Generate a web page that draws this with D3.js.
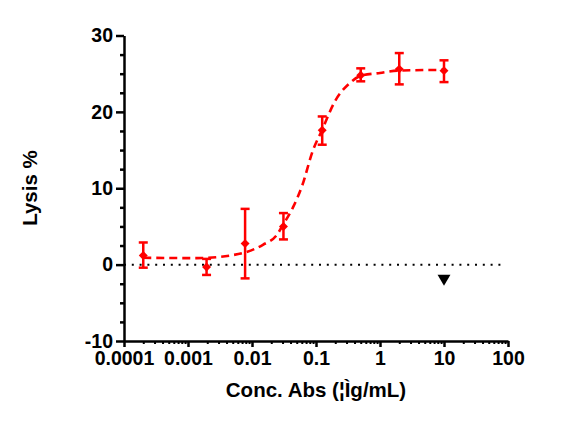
<!DOCTYPE html>
<html>
<head>
<meta charset="utf-8">
<script src="https://cdn.jsdelivr.net/npm/d3@7"></script>
<style>
    body { margin: 0; background: #fff; }
    text { font-family: "Liberation Sans", Arial, sans-serif; font-weight: bold; }
</style>
</head>
<body>
<script>
// measured points (mean +/- error)
const conc = [0.0002, 0.00195, 0.0078, 0.031, 0.125, 0.5, 2, 10];
const lysis = [1.2, -0.3, 2.75, 5.0, 17.6, 24.8, 25.6, 25.4];
const errLow = [1.6, 1.05, 4.55, 1.7, 1.9, 0.8, 2.0, 1.5];
const errHigh = [1.7, 1.05, 4.55, 1.75, 1.8, 0.9, 2.1, 1.35];

// fitted curve
const curveConc = [0.0002, 0.00138, 0.0046, 0.0078, 0.0148, 0.0245, 0.030, 0.0437, 0.060, 0.090, 0.124, 0.198, 0.34, 0.49, 1.0, 1.9, 10];
const curveLysis = [0.9, 0.85, 1.2, 1.6, 2.6, 3.9, 5.1, 7.5, 10.2, 15.0, 17.6, 21.4, 23.8, 24.7, 25.1, 25.4, 25.5];

// isotype control
const ctrlConc = [10];
const ctrlLysis = [-1.8];

const xTicks = [0.0001, 0.001, 0.01, 0.1, 1, 10, 100];
const xTickLabels = ['0.0001', '0.001', '0.01', '0.1', '1', '10', '100'];
const yTicks = [-10, 0, 10, 20, 30];
const yTickLabels = ['-10', '0', '10', '20', '30'];

const width = 570;
const height = 424;
const margin = { top: 35.5, right: 62, bottom: 83, left: 124 };
const red = '#ff0000';

const x = d3.scaleLog()
    .domain([0.0001, 100])
    .range([margin.left, width - margin.right]);

const y = d3.scaleLinear()
    .domain([-10, 30])
    .range([height - margin.bottom, margin.top]);

const svg = d3.create('svg')
    .attr('width', width)
    .attr('height', height);

// minor ticks
const xMinor = [];
xTicks.slice(0, -1).forEach(d => {
    for (let k = 2; k < 10; k++) xMinor.push(d * k);
});
const yMinor = d3.range(-10, 30.1, 2.5).filter(v => !yTicks.includes(v));

svg.append('g')
    .attr('transform', `translate(0,${y(-10)})`)
    .call(d3.axisBottom(x).tickValues(xMinor).tickSize(3).tickFormat(''))
    .call(g => g.select('.domain').remove())
    .call(g => g.selectAll('line').attr('stroke-width', 2));

svg.append('g')
    .attr('transform', `translate(${x(0.0001)},0)`)
    .call(d3.axisLeft(y).tickValues(yMinor).tickSize(4).tickFormat(''))
    .call(g => g.select('.domain').remove())
    .call(g => g.selectAll('line').attr('stroke-width', 2.5));

// main axes
const xAxis = svg.append('g')
    .attr('transform', `translate(0,${y(-10)})`)
    .call(d3.axisBottom(x)
        .tickValues(xTicks)
        .tickSize(6)
        .tickSizeOuter(0)
        .tickPadding(4)
        .tickFormat((d, i) => xTickLabels[i]));
xAxis.select('.domain').attr('stroke-width', 2.5);
xAxis.selectAll('line').attr('stroke-width', 2.5);
xAxis.selectAll('text').attr('font-size', 19.5).attr('fill', '#000');

const yAxis = svg.append('g')
    .attr('transform', `translate(${x(0.0001)},0)`)
    .call(d3.axisLeft(y)
        .tickValues(yTicks)
        .tickSize(8)
        .tickSizeOuter(0)
        .tickPadding(3)
        .tickFormat((d, i) => yTickLabels[i]));
yAxis.select('.domain').attr('stroke-width', 2.5);
yAxis.selectAll('line').attr('stroke-width', 2.5);
yAxis.selectAll('text').attr('font-size', 19.5).attr('fill', '#000');

// zero line
svg.append('line')
    .attr('x1', x(0.0001))
    .attr('x2', x(80))
    .attr('y1', y(0))
    .attr('y2', y(0))
    .attr('stroke', '#000')
    .attr('stroke-width', 2)
    .attr('stroke-dasharray', '2,5.8');

// fit curve
const line = d3.line()
    .x(d => x(d[0]))
    .y(d => y(d[1]))
    .curve(d3.curveMonotoneX);

svg.append('path')
    .datum(curveConc.map((c, i) => [c, curveLysis[i]]))
    .attr('d', line)
    .attr('fill', 'none')
    .attr('stroke', red)
    .attr('stroke-width', 2.6)
    .attr('stroke-dasharray', '8,5');

// error bars + markers
const pts = conc.map((c, i) => ({ c, v: lysis[i], lo: lysis[i] - errLow[i], hi: lysis[i] + errHigh[i] }));
const pt = svg.selectAll('g.pt')
    .data(pts)
    .join('g')
    .attr('class', 'pt');

pt.append('line')
    .attr('x1', d => x(d.c))
    .attr('x2', d => x(d.c))
    .attr('y1', d => y(d.lo))
    .attr('y2', d => y(d.hi))
    .attr('stroke', red)
    .attr('stroke-width', 2.5);

['lo', 'hi'].forEach(k => {
    pt.append('line')
        .attr('x1', d => x(d.c) - 4.5)
        .attr('x2', d => x(d.c) + 4.5)
        .attr('y1', d => y(d[k]))
        .attr('y2', d => y(d[k]))
        .attr('stroke', red)
        .attr('stroke-width', 2.5);
});

pt.append('path')
    .attr('d', d3.symbol(d3.symbolSquare, 40))
    .attr('transform', d => `translate(${x(d.c)},${y(d.v)}) rotate(45)`)
    .attr('fill', red);

svg.selectAll('path.ctrl')
    .data(ctrlConc.map((c, i) => [c, ctrlLysis[i]]))
    .join('path')
    .attr('class', 'ctrl')
    .attr('d', d3.symbol(d3.symbolTriangle, 72))
    .attr('transform', d => `translate(${x(d[0])},${y(d[1])}) rotate(180)`)
    .attr('fill', '#000');

// axis titles
svg.append('text')
    .attr('x', (x.range()[0] + x.range()[1]) / 2)
    .attr('y', 397)
    .attr('text-anchor', 'middle')
    .attr('font-size', 20.5)
    .text('Conc. Abs (¦Ìg/mL)');

svg.append('text')
    .attr('transform', 'translate(37,188) rotate(-90)')
    .attr('text-anchor', 'middle')
    .attr('font-size', 20.5)
    .text('Lysis %');

document.querySelector('body').appendChild(svg.node());
</script>
</body>
</html>
